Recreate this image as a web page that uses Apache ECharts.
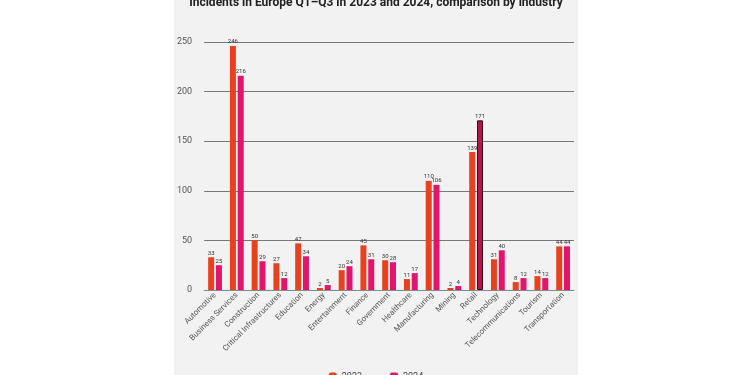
<!DOCTYPE html>
<html>
<head>
<meta charset="utf-8">
<script src="https://cdn.jsdelivr.net/npm/echarts@6/dist/echarts.min.js"></script>
<style>
  html, body { margin: 0; padding: 0; background: #ffffff; }
  #panel { position: absolute; left: 174px; top: 0; width: 404px; height: 375px; background: #f2f2f2; }
</style>
</head>
<body>
<div id="panel"></div>
<script>
/* data */
var industries = ['Automotive', 'Business Services', 'Construction', 'Critical Infrastructures', 'Education', 'Energy',
  'Entertainment', 'Finance', 'Government', 'Healthcare', 'Manufacturing', 'Mining', 'Retail', 'Technology',
  'Telecommunications', 'Tourism', 'Transportation'];
var incidents2023 = [33, 246, 50, 27, 47, 2, 20, 45, 30, 11, 110, 2, 139, 31, 8, 14, 44];
var incidents2024 = [25, 216, 29, 12, 34, 5, 24, 31, 28, 17, 106, 4, 171, 40, 12, 12, 44];
var yTicks = [0, 50, 100, 150, 200, 250];

var chart = echarts.init(document.getElementById('panel'));

// Retail 2024 bar is highlighted in the original
var data2024 = incidents2024.map(function (v, i) {
  if (industries[i] === 'Retail') {
    return { value: v, itemStyle: { color: '#b3164c', borderColor: '#3a0a18', borderWidth: 1 } };
  }
  return v;
});

var barLabel = {
  show: true,
  position: 'top',
  distance: 1,
  fontSize: 6,
  color: '#333',
  fontFamily: 'Roboto'
};

var option = {
  animation: false,
  textStyle: { fontFamily: 'Roboto' },
  title: {
    text: 'Incidents in Europe Q1\u2013Q3 in 2023 and 2024, comparison by industry',
    left: 'center',
    top: -8,
    textStyle: { fontSize: 12, fontWeight: 'bold', color: '#222' }
  },
  legend: {
    bottom: -11,
    left: 'center',
    itemWidth: 8,
    itemHeight: 8,
    itemGap: 28,
    textStyle: { fontSize: 9, color: '#444' },
    data: ['2023', '2024']
  },
  grid: { left: 24, right: 4, top: 42, bottom: 85 },
  xAxis: {
    type: 'category',
    data: industries,
    axisTick: { show: false },
    axisLine: { lineStyle: { color: '#888' } },
    axisLabel: { rotate: 45, fontSize: 8, color: '#555', interval: 0, margin: 4 }
  },
  yAxis: {
    type: 'value',
    min: yTicks[0],
    max: yTicks[yTicks.length - 1],
    interval: 50,
    axisLine: { show: false },
    axisTick: { show: false },
    axisLabel: { fontSize: 9, color: '#555', margin: 12 },
    splitLine: { lineStyle: { color: '#777', width: 1 } }
  },
  series: [
    {
      name: '2023',
      type: 'bar',
      data: incidents2023,
      barWidth: 6,
      barGap: '30%',
      itemStyle: { color: '#e8411e' },
      label: barLabel
    },
    {
      name: '2024',
      type: 'bar',
      data: data2024,
      barWidth: 6,
      itemStyle: { color: '#e2156c' },
      label: barLabel
    }
  ]
};
chart.setOption(option);
</script>
</body>
</html>
